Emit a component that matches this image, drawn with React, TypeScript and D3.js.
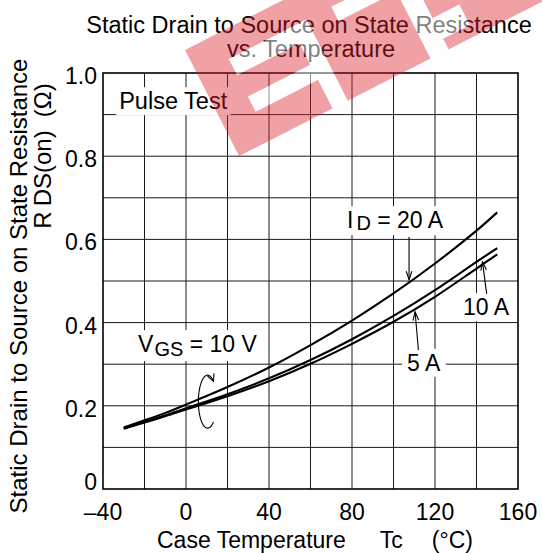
import { useEffect, useRef } from 'react';
import * as d3 from 'd3';

// case temperature (°C) at which the curves were read
const caseTemps = [-30, -20, -10, 0, 20, 40, 60, 80, 100, 120, 140, 150];
// RDS(on) in ohms, VGS = 10 V
const rdsId20 = [0.148, 0.165, 0.183, 0.203, 0.245, 0.292, 0.346, 0.405, 0.47, 0.542, 0.621, 0.665];
const rdsId10 = [0.146, 0.161, 0.177, 0.194, 0.228, 0.266, 0.31, 0.36, 0.416, 0.478, 0.546, 0.579];
const rdsId5 = [0.145, 0.16, 0.175, 0.191, 0.223, 0.259, 0.301, 0.349, 0.402, 0.462, 0.53, 0.564];

const xTicks = [-40, 0, 40, 80, 120, 160];
const xTickLabels = ['\u201340', '0', '40', '80', '120', '160'];
const yTicks = [0, 0.2, 0.4, 0.6, 0.8, 1.0];
const yTickLabels = ['0', '0.2', '0.4', '0.6', '0.8', '1.0'];

const FONT = '"Liberation Sans", Arial, Helvetica, sans-serif';
const W = 542;
const H = 553;

type Part = { text: string; size?: number; dy?: number; dx?: number };

export default function App() {
  const ref = useRef<SVGSVGElement>(null);

  useEffect(() => {
    const svg = d3.select(ref.current);
    svg.selectAll('*').remove();

    const x = d3.scaleLinear().domain([-40, 160]).range([103, 518]);
    const y = d3.scaleLinear().domain([0, 1]).range([489, 73]);

    svg.append('rect').attr('width', W).attr('height', H).attr('fill', '#fff');

    // grid
    const grid = svg.append('g').attr('stroke', '#1a1a1a').attr('stroke-width', 1);
    d3.range(-20, 160, 20).forEach((t) => {
      grid.append('line').attr('x1', x(t)).attr('x2', x(t)).attr('y1', y(0)).attr('y2', y(1));
    });
    d3.range(1, 10).forEach((i) => {
      const v = i / 10;
      grid.append('line').attr('x1', x(-40)).attr('x2', x(160)).attr('y1', y(v)).attr('y2', y(v));
    });

    // text with a white box behind it (the box hides the grid)
    const label = (tx: number, ty: number, parts: Part[], pad = 3) => {
      const g = svg.append('g');
      const t = g
        .append('text')
        .attr('x', tx)
        .attr('y', ty)
        .attr('font-family', FONT)
        .attr('font-size', 23)
        .attr('fill', '#000');
      parts.forEach((p) => {
        t.append('tspan')
          .attr('font-size', p.size ?? 23)
          .attr('dy', p.dy ?? 0)
          .attr('dx', p.dx ?? 0)
          .attr('xml:space', 'preserve')
          .text(p.text);
      });
      const b = (t.node() as SVGTextElement).getBBox();
      g.insert('rect', 'text')
        .attr('x', b.x - pad)
        .attr('y', b.y - 1)
        .attr('width', b.width + pad * 2)
        .attr('height', b.height + 2)
        .attr('fill', '#fff');
      return g;
    };

    label(x(-32.2), y(0.913), [{ text: 'Pulse Test', size: 23.5 }]);
    label(x(77.6), y(0.627), [
      { text: 'I' },
      { text: 'D', size: 20, dx: 3, dy: 2 },
      { text: ' = 20 A', dy: -2 },
    ]);
    label(x(133.5), y(0.418), [{ text: '10 A' }]);
    label(x(106.5), y(0.284), [{ text: '5 A' }], 5);
    label(x(-23.1), y(0.329), [
      { text: 'V' },
      { text: 'GS', size: 20, dx: 1, dy: 4 },
      { text: ' = 10 V', dy: -4 },
    ]);

    // curves
    const line = d3
      .line<number>()
      .x((_, i) => x(caseTemps[i]))
      .y((d) => y(d))
      .curve(d3.curveCatmullRom);
    [rdsId20, rdsId10, rdsId5].forEach((s) => {
      svg
        .append('path')
        .attr('d', line(s) ?? '')
        .attr('fill', 'none')
        .attr('stroke', '#000')
        .attr('stroke-width', 2.1);
    });

    // leader arrows, open V heads
    const arrow = (t1: number, r1: number, t2: number, r2: number) => {
      const x1 = x(t1), y1 = y(r1), x2 = x(t2), y2 = y(r2);
      const a = Math.atan2(y2 - y1, x2 - x1);
      const len = 9;
      const spread = 0.32;
      const g = svg.append('g').attr('stroke', '#000').attr('stroke-width', 1.1).attr('fill', 'none');
      g.append('line').attr('x1', x1).attr('y1', y1).attr('x2', x2).attr('y2', y2);
      g.append('path').attr(
        'd',
        `M${x2 - len * Math.cos(a - spread)},${y2 - len * Math.sin(a - spread)}L${x2},${y2}L${
          x2 - len * Math.cos(a + spread)
        },${y2 - len * Math.sin(a + spread)}`
      );
    };
    arrow(107.5, 0.606, 107.5, 0.503);
    arrow(144.9, 0.469, 142.9, 0.546);
    arrow(112, 0.334, 110.4, 0.426);

    // circular arrow around the curves near 10 °C
    const cx = x(10.4), cy = y(0.21), rx = 9.2, ry = 26.5;
    const angles = d3.range(-310, -49, 4).map((d) => (d * Math.PI) / 180);
    const ell = d3
      .line<number>()
      .x((a) => cx + rx * Math.cos(a))
      .y((a) => cy + ry * Math.sin(a))
      .curve(d3.curveBasis);
    svg.append('path').attr('d', ell(angles) ?? '').attr('fill', 'none').attr('stroke', '#000').attr('stroke-width', 1.1);
    {
      const a = (-50 * Math.PI) / 180;
      const tx = cx + rx * Math.cos(a), ty = cy + ry * Math.sin(a);
      const dir = Math.atan2(ry * Math.cos(a), -rx * Math.sin(a));
      const len = 8;
      svg
        .append('path')
        .attr(
          'd',
          `M${tx - len * Math.cos(dir - 0.45)},${ty - len * Math.sin(dir - 0.45)}L${tx},${ty}L${
            tx - len * Math.cos(dir + 0.45)
          },${ty - len * Math.sin(dir + 0.45)}`
        )
        .attr('fill', 'none')
        .attr('stroke', '#000')
        .attr('stroke-width', 1.1);
    }

    // frame
    svg
      .append('rect')
      .attr('x', x(-40))
      .attr('y', y(1))
      .attr('width', x(160) - x(-40))
      .attr('height', y(0) - y(1))
      .attr('fill', 'none')
      .attr('stroke', '#000')
      .attr('stroke-width', 1.6);

    // ticks labels
    svg
      .append('g')
      .selectAll('text')
      .data(xTicks)
      .join('text')
      .attr('x', (d) => x(d))
      .attr('y', 520)
      .attr('text-anchor', 'middle')
      .attr('font-family', FONT)
      .attr('font-size', 23)
      .text((_, i) => xTickLabels[i]);
    svg
      .append('g')
      .selectAll('text')
      .data(yTicks)
      .join('text')
      .attr('x', 97)
      .attr('y', (d) => y(d) + (d === 0 ? -7 : 3))
      .attr('dominant-baseline', 'central')
      .attr('text-anchor', 'end')
      .attr('font-family', FONT)
      .attr('font-size', 23)
      .text((_, i) => yTickLabels[i]);

    // titles
    const title = svg.append('text').attr('font-family', FONT).attr('font-size', 23.5).attr('text-anchor', 'middle');
    title.append('tspan').attr('x', 309).attr('y', 33).text('Static Drain to Source on State Resistance');
    title.append('tspan').attr('x', 311).attr('y', 57).text('vs. Temperature');

    const xl = svg.append('text').attr('x', 157).attr('y', 548).attr('font-family', FONT).attr('font-size', 23);
    xl.append('tspan').text('Case Temperature');
    xl.append('tspan').attr('dx', 34).text('Tc');
    xl.append('tspan').attr('dx', 29).text('(\u00b0C)');

    svg
      .append('text')
      .attr('transform', 'translate(27,286) rotate(-90)')
      .attr('text-anchor', 'middle')
      .attr('font-family', FONT)
      .attr('font-size', 24)
      .text('Static Drain to Source on State Resistance');
    const yl2 = svg
      .append('text')
      .attr('transform', 'translate(51,156) rotate(-90)')
      .attr('text-anchor', 'middle')
      .attr('font-family', FONT)
      .attr('font-size', 24);
    yl2.append('tspan').text('R');
    yl2.append('tspan').attr('dx', 5).text('DS(on)');
    yl2.append('tspan').attr('dx', 13).text('(\u03a9)');

    // watermark band with cut-outs
    const holes = [
      [35, 28, 70, 18],
      [35, 70, 70, 17],
      [105, 28, 17, 91],
      [150, 28, 65, 16],
      [215, 44, 20, 75],
      [235, 84, 30, 23],
      [285, 28, 60, 16],
    ];
    const band = `M0,0H430V119H0Z` + holes.map(([u, v, w, h]) => `M${u},${v}h${w}v${h}h${-w}Z`).join('');
    const wm = svg.append('g').attr('transform', 'translate(185,50) rotate(-27)');
    wm.append('path').attr('d', band).attr('fill', '#dc1e2a').attr('fill-opacity', 0.42).attr('fill-rule', 'evenodd');
    holes.forEach(([u, v, w, h]) => {
      wm.append('rect').attr('x', u).attr('y', v).attr('width', w).attr('height', h).attr('fill', '#fff').attr('fill-opacity', 0.5);
    });
  }, []);

  return <svg ref={ref} width={W} height={H} style={{ position: 'absolute', left: 0, top: 0 }} />;
}
